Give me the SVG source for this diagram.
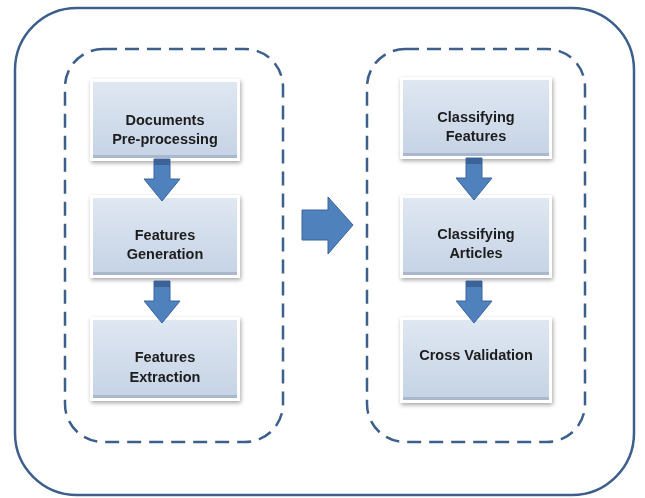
<svg xmlns="http://www.w3.org/2000/svg" width="645" height="498" viewBox="0 0 645 498">
  <defs>
    <linearGradient id="boxfill" x1="0" y1="0" x2="0" y2="1">
      <stop offset="0" stop-color="#dfe7f2"/>
      <stop offset="1" stop-color="#c5d3e5"/>
    </linearGradient>
    <filter id="shadow" x="-10%" y="-10%" width="125%" height="130%">
      <feGaussianBlur in="SourceAlpha" stdDeviation="2"/>
      <feOffset dx="1" dy="2" result="b"/>
      <feComponentTransfer><feFuncA type="linear" slope="0.35"/></feComponentTransfer>
      <feMerge><feMergeNode/><feMergeNode in="SourceGraphic"/></feMerge>
    </filter>
    <g id="darrow">
      <path d="M-8,0 H8 V20 H18 L0,42 L-18,20 H-8 Z" fill="#4f81bd" stroke="#3a64a0" stroke-width="1"/>
      <rect x="-8" y="0" width="16" height="6" fill="#3b6397"/>
    </g>
  </defs>
  <style>
    .outer { fill: #ffffff; stroke: #3c5f8c; stroke-width: 2.5; }
    .group { fill: none; stroke: #3c5f8c; stroke-width: 2.5; stroke-dasharray: 14 8; }
    .box rect.frame { fill: #ffffff; }
    .box rect.body { fill: url(#boxfill); }
    .box rect.bottom { fill: #a9b8cc; }
    .box text { font-family: "Liberation Sans", Arial, sans-serif; font-weight: bold; font-size: 14.5px; fill: #1c1c1c; text-anchor: middle; }
  </style>

  <rect class="outer" x="15" y="8" width="619" height="487" rx="62" ry="62"/>
  <rect class="group" x="65" y="49" width="218" height="393" rx="38" ry="38"/>
  <rect class="group" x="367" y="49" width="218" height="393" rx="38" ry="38"/>

  <g id="n1" class="box" filter="url(#shadow)">
    <rect class="frame" x="90" y="79" width="150" height="82"/>
    <rect class="body" x="93" y="82" width="144" height="76"/>
    <rect class="bottom" x="93" y="155" width="144" height="3"/>
    <text x="165" y="125">Documents</text>
    <text x="165" y="144">Pre-processing</text>
  </g>
  <g id="n2" class="box" filter="url(#shadow)">
    <rect class="frame" x="90" y="195" width="150" height="83"/>
    <rect class="body" x="93" y="198" width="144" height="77"/>
    <rect class="bottom" x="93" y="272" width="144" height="3"/>
    <text x="165" y="240">Features</text>
    <text x="165" y="259">Generation</text>
  </g>
  <g id="n3" class="box" filter="url(#shadow)">
    <rect class="frame" x="90" y="317" width="150" height="84"/>
    <rect class="body" x="93" y="320" width="144" height="78"/>
    <rect class="bottom" x="93" y="395" width="144" height="3"/>
    <text x="165" y="362">Features</text>
    <text x="165" y="382">Extraction</text>
  </g>
  <g id="n4" class="box" filter="url(#shadow)">
    <rect class="frame" x="400" y="77" width="152" height="82"/>
    <rect class="body" x="403" y="80" width="146" height="76"/>
    <rect class="bottom" x="403" y="153" width="146" height="3"/>
    <text x="476" y="122">Classifying</text>
    <text x="476" y="141">Features</text>
  </g>
  <g id="n5" class="box" filter="url(#shadow)">
    <rect class="frame" x="400" y="195" width="152" height="83"/>
    <rect class="body" x="403" y="198" width="146" height="77"/>
    <rect class="bottom" x="403" y="272" width="146" height="3"/>
    <text x="476" y="239">Classifying</text>
    <text x="476" y="258">Articles</text>
  </g>
  <g id="n6" class="box" filter="url(#shadow)">
    <rect class="frame" x="400" y="317" width="152" height="86"/>
    <rect class="body" x="403" y="320" width="146" height="80"/>
    <rect class="bottom" x="403" y="397" width="146" height="3"/>
    <text x="476" y="360">Cross Validation</text>
  </g>

  <g id="connectors">
    <use href="#darrow" transform="translate(162,159)"/>
    <use href="#darrow" transform="translate(162,281)"/>
    <use href="#darrow" transform="translate(474,158)"/>
    <use href="#darrow" transform="translate(474,281)"/>
    <path d="M302,210 H328 V197 L353,225 L328,254 V240 H302 Z" fill="#4f81bd" stroke="#3a64a0" stroke-width="1"/>
  </g>
</svg>
